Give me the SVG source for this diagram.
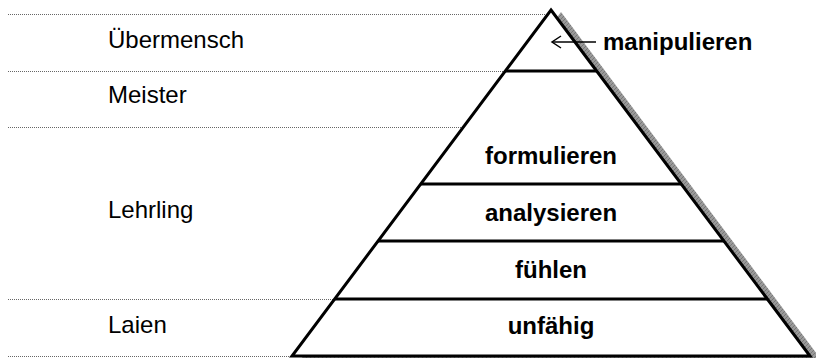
<svg xmlns="http://www.w3.org/2000/svg" width="816" height="360" viewBox="0 0 816 360">
<style>
.dot{stroke:#666;stroke-width:1;stroke-dasharray:1 1;fill:none}
.lbl{font-family:"Liberation Sans",Arial,sans-serif;font-size:24px;fill:#000}
.bl{font-family:"Liberation Sans",Arial,sans-serif;font-size:24px;font-weight:bold;fill:#000;text-anchor:middle}
.ln{stroke:#000;stroke-width:3;fill:none}
</style>
<defs>
<pattern id="hatch" width="4" height="4" patternUnits="userSpaceOnUse">
<rect width="4" height="4" fill="#9a9a9a"/>
<path d="M0 4 L4 0" stroke="#777" stroke-width="1"/>
</pattern>
<marker id="arr" markerWidth="14" markerHeight="14" refX="12" refY="7" orient="auto" markerUnits="userSpaceOnUse">
<path d="M3 1 L12 7 L3 13" fill="none" stroke="#000" stroke-width="1.5"/>
</marker>
</defs>
<rect width="816" height="360" fill="#fff"/>
<g id="guides">
<line class="dot" x1="8" y1="14.5" x2="547" y2="14.5"/>
<line class="dot" x1="8" y1="71.5" x2="505" y2="71.5"/>
<line class="dot" x1="8" y1="127.5" x2="463" y2="127.5"/>
<line class="dot" x1="8" y1="299.5" x2="334" y2="299.5"/>
<line class="dot" x1="8" y1="356.5" x2="292" y2="356.5"/>
</g>
<g id="pyramid">
<polygon points="561,12 820,358 302,358" fill="url(#hatch)"/>
<polygon points="551,10 810,356 292,356" fill="#fff" stroke="#000" stroke-width="3" stroke-linejoin="miter"/>
</g>
<g id="level-uebermensch">
<text class="lbl" x="108" y="48">Übermensch</text>
</g>
<g id="level-meister">
<line class="ln" x1="505" y1="71" x2="597" y2="71"/>
<text class="lbl" x="108" y="103">Meister</text>
</g>
<g id="level-lehrling">
<text class="lbl" x="108" y="218">Lehrling</text>
</g>
<g id="level-laien">
<text class="lbl" x="108" y="333">Laien</text>
</g>
<g id="formulieren">
<line class="ln" x1="421" y1="184" x2="681" y2="184"/>
<text class="bl" x="551" y="164">formulieren</text>
</g>
<g id="analysieren">
<line class="ln" x1="378" y1="241" x2="724" y2="241"/>
<text class="bl" x="551" y="221">analysieren</text>
</g>
<g id="fuehlen">
<line class="ln" x1="335" y1="299" x2="767" y2="299"/>
<text class="bl" x="551" y="278">fühlen</text>
</g>
<g id="unfaehig">
<text class="bl" x="551" y="334">unfähig</text>
</g>
<g id="manipulieren">
<text class="lbl" x="603" y="50" style="font-weight:bold">manipulieren</text>
</g>
<g id="connectors">
<line x1="596" y1="42" x2="552" y2="42" stroke="#000" stroke-width="1.5" marker-end="url(#arr)"/>
</g>
</svg>
